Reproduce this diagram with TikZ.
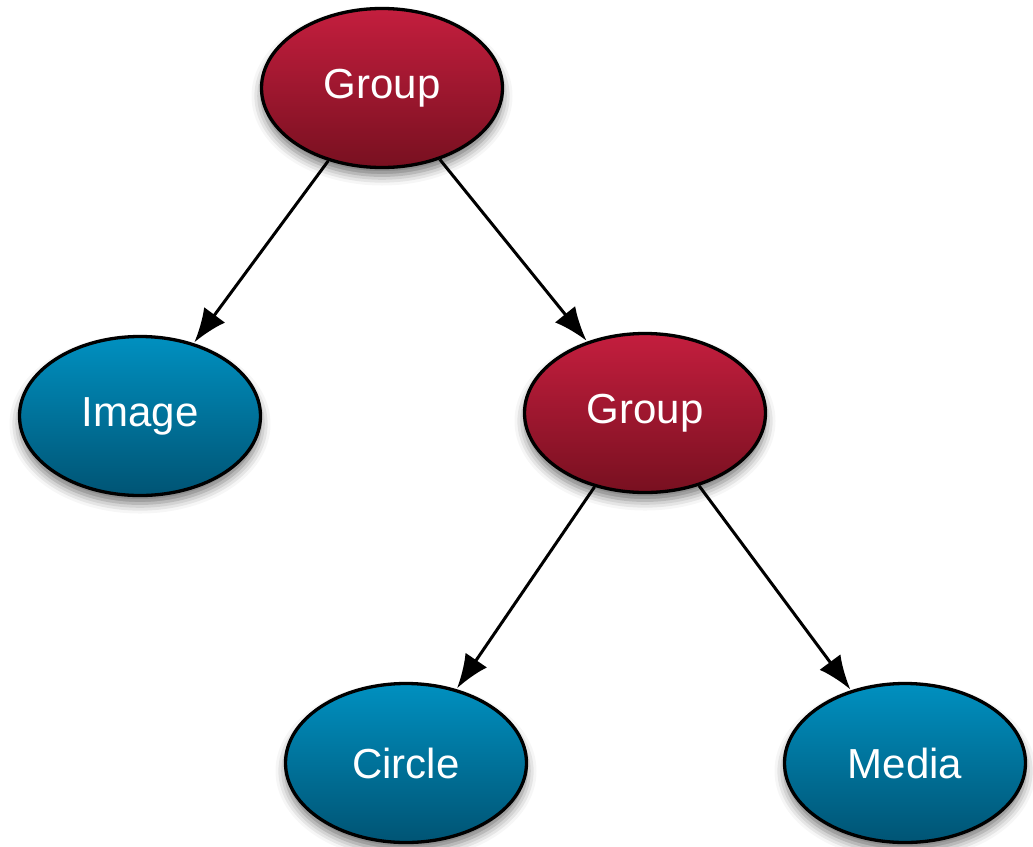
\documentclass[tikz,border=0pt]{standalone}
\usepackage{fontspec}
\setmainfont{Liberation Sans}
\usetikzlibrary{shapes.geometric,arrows.meta,shadows.blur}
\definecolor{redtop}{HTML}{C41E3E}
\definecolor{redbot}{HTML}{781020}
\definecolor{bluetop}{HTML}{0090C0}
\definecolor{bluebot}{HTML}{005474}
\tikzset{
  blob/.style={ellipse, draw=black, line width=3.3pt, minimum width=241pt, minimum height=159pt,
    inner sep=0pt, text=white, font=\fontsize{42}{42}\selectfont,
    blur shadow={shadow xshift=0pt, shadow yshift=-8pt, shadow blur radius=10pt, shadow opacity=55}},
  grp/.style={blob, top color=redtop, bottom color=redbot},
  leaf/.style={blob, top color=bluetop, bottom color=bluebot},
  conn/.style={line width=3pt, -{Latex[length=34pt,width=26pt]}, shorten >=1pt}
}
\begin{document}
\begin{tikzpicture}[x=1pt,y=-1pt]
\useasboundingbox (0,0) rectangle (1033,846);
\node[grp] (g1) at (382,88) {Group};
\node[leaf] (img) at (140,416) {Image};
\node[grp] (g2) at (645,413) {Group};
\node[leaf] (cir) at (406,763) {Circle};
\node[leaf] (med) at (905,763) {Media};
\draw[conn] (g1) -- (img);
\draw[conn] (g1) -- (g2);
\draw[conn] (g2) -- (cir);
\draw[conn] (g2) -- (med);
\end{tikzpicture}
\end{document}
